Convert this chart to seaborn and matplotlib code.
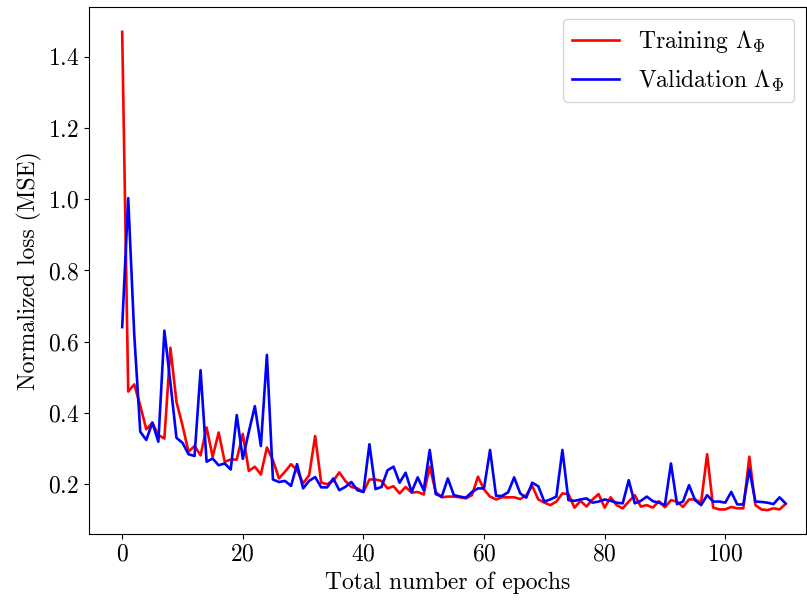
import numpy as np
import pandas as pd
import seaborn as sns
import matplotlib
matplotlib.use('Agg')
import matplotlib.pyplot as plt

# Computer Modern look
plt.rcParams['font.family'] = 'serif'
plt.rcParams['font.serif'] = ['cmr10', 'DejaVu Serif']
plt.rcParams['mathtext.fontset'] = 'cm'
plt.rcParams['axes.formatter.use_mathtext'] = True

# Loss values, one per epoch (0..110)
train_loss = [
    1.47, 0.46, 0.48, 0.42, 0.354, 0.372, 0.338, 0.328, 0.583, 0.431,
    0.365, 0.291, 0.307, 0.281, 0.359, 0.277, 0.345, 0.263, 0.269, 0.269,
    0.341, 0.237, 0.249, 0.227, 0.303, 0.267, 0.216, 0.235, 0.256, 0.239,
    0.202, 0.225, 0.335, 0.204, 0.200, 0.209, 0.233, 0.209, 0.192, 0.188,
    0.178, 0.213, 0.213, 0.209, 0.188, 0.194, 0.174, 0.192, 0.176, 0.178,
    0.171, 0.249, 0.178, 0.163, 0.165, 0.165, 0.163, 0.160, 0.169, 0.221,
    0.185, 0.165, 0.157, 0.163, 0.163, 0.163, 0.158, 0.169, 0.195, 0.157,
    0.148, 0.141, 0.151, 0.174, 0.172, 0.134, 0.153, 0.137, 0.157, 0.172,
    0.134, 0.163, 0.141, 0.132, 0.151, 0.169, 0.137, 0.141, 0.134, 0.152,
    0.135, 0.155, 0.151, 0.136, 0.157, 0.157, 0.148, 0.284, 0.134, 0.129,
    0.129, 0.136, 0.132, 0.132, 0.277, 0.141, 0.129, 0.127, 0.132, 0.129,
    0.144,
]
val_loss = [
    0.641, 1.003, 0.62, 0.347, 0.324, 0.373, 0.319, 0.631, 0.484, 0.330,
    0.316, 0.284, 0.279, 0.520, 0.263, 0.272, 0.253, 0.258, 0.241, 0.394,
    0.271, 0.347, 0.419, 0.307, 0.563, 0.213, 0.206, 0.209, 0.195, 0.256,
    0.188, 0.209, 0.220, 0.191, 0.191, 0.216, 0.183, 0.192, 0.206, 0.183,
    0.178, 0.312, 0.186, 0.192, 0.239, 0.249, 0.204, 0.232, 0.178, 0.219,
    0.183, 0.296, 0.172, 0.165, 0.216, 0.169, 0.165, 0.162, 0.178, 0.188,
    0.188, 0.296, 0.167, 0.167, 0.177, 0.219, 0.174, 0.162, 0.204, 0.194,
    0.151, 0.157, 0.165, 0.296, 0.155, 0.153, 0.157, 0.160, 0.148, 0.151,
    0.157, 0.153, 0.148, 0.146, 0.211, 0.146, 0.153, 0.165, 0.152, 0.148,
    0.141, 0.258, 0.144, 0.151, 0.197, 0.155, 0.141, 0.169, 0.151, 0.151,
    0.148, 0.178, 0.143, 0.143, 0.241, 0.151, 0.150, 0.148, 0.144, 0.163,
    0.146,
]
epochs = np.arange(len(train_loss))

train_label = r'Training $\Lambda_\Phi$'
val_label = r'Validation $\Lambda_\Phi$'

df = pd.DataFrame({
    'epoch': np.concatenate([epochs, epochs]),
    'loss': train_loss + val_loss,
    'set': [train_label] * len(train_loss) + [val_label] * len(val_loss),
})

fig = plt.figure(figsize=(8.07, 6.01), dpi=100)
ax = fig.add_axes([0.1103, 0.1115, 0.8885, 0.877])

sns.lineplot(data=df, x='epoch', y='loss', hue='set', ax=ax,
             palette={train_label: 'red', val_label: 'blue'}, linewidth=1.9)

ax.set_xlim(-5.5, 113.4)
ax.set_ylim(0.06, 1.54)
ax.set_xlabel('Total number of epochs', fontsize=17)
ax.set_ylabel('Normalized loss (MSE)', fontsize=17)
ax.tick_params(labelsize=17)

# Legend without title, upper right
ax.legend(loc='upper right', fontsize=17, title=None)

fig.savefig('out.png', dpi=100)
